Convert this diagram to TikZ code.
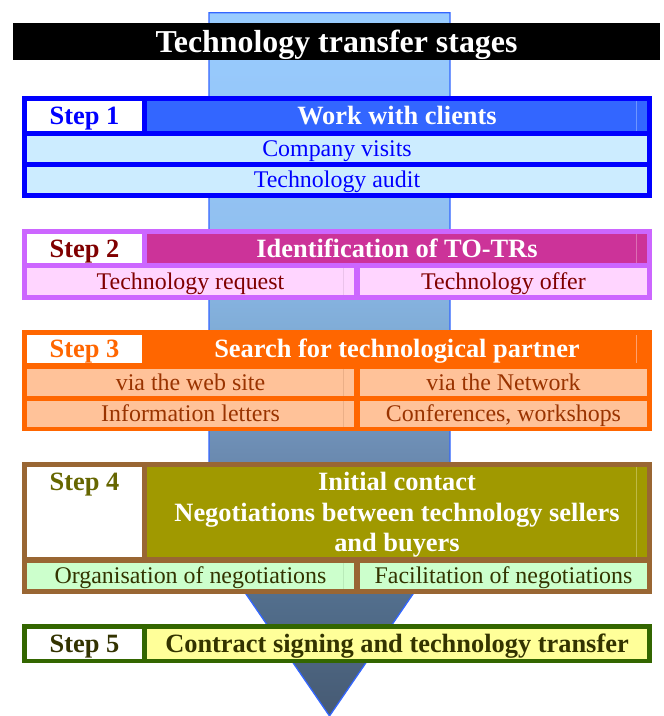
\documentclass[tikz,border=0pt]{standalone}
\usepackage{fontspec}
\setmainfont{Liberation Serif}
\definecolor{ashA}{RGB}{70,90,115}
\definecolor{ashB}{RGB}{82,110,140}
\definecolor{ashC}{RGB}{108,140,178}
\definecolor{ashD}{RGB}{128,172,215}
\definecolor{ashE}{RGB}{145,192,240}
\definecolor{ashF}{RGB}{153,204,255}
\definecolor{arrline}{RGB}{51,102,255}
\pgfdeclareverticalshading{arrowsh}{100bp}{color(0bp)=(ashA); color(25bp)=(ashA); color(33.25bp)=(ashB); color(43.9bp)=(ashC); color(52.45bp)=(ashD); color(59.6bp)=(ashE); color(75bp)=(ashF); color(100bp)=(ashF)}
% step 1
\definecolor{bdA}{RGB}{0,0,255}
\definecolor{hdA}{RGB}{51,102,255}
\definecolor{rwA}{RGB}{204,236,255}
\definecolor{txA}{RGB}{0,0,255}
\definecolor{flA}{RGB}{110,150,255}
% step 2
\definecolor{bdB}{RGB}{204,102,255}
\definecolor{hdB}{RGB}{204,51,153}
\definecolor{rwB}{RGB}{255,213,255}
\definecolor{txB}{RGB}{128,0,0}
\definecolor{flB}{RGB}{220,110,180}
\definecolor{fcB}{RGB}{235,195,235}
% step 3
\definecolor{bdC}{RGB}{255,102,0}
\definecolor{rwC}{RGB}{255,194,153}
\definecolor{txC}{RGB}{153,51,0}
\definecolor{flC}{RGB}{255,160,110}
\definecolor{fcC}{RGB}{235,175,135}
% step 4
\definecolor{bdD}{RGB}{153,102,51}
\definecolor{hdD}{RGB}{160,153,0}
\definecolor{rwD}{RGB}{204,255,204}
\definecolor{txD}{RGB}{102,102,0}
\definecolor{tdD}{RGB}{51,51,0}
\definecolor{flD}{RGB}{190,185,70}
\definecolor{fcD}{RGB}{185,235,185}
% step 5
\definecolor{bdE}{RGB}{51,102,0}
\definecolor{hdE}{RGB}{255,255,153}
\definecolor{txE}{RGB}{51,51,0}
\begin{document}
\begin{tikzpicture}[x=1bp,y=-1bp,
  cell/.style={inner sep=0pt, outer sep=0pt, anchor=center},
  hfont/.style={font=\fontsize{26.5}{30.5}\selectfont\bfseries, text height=17.5bp, text depth=0bp},
  rfont/.style={font=\fontsize{24}{28}\selectfont, text height=15.9bp, text depth=0bp},
  faint/.style={line width=0.8bp}]
\useasboundingbox (0,0) rectangle (664,716);
% arrow
\path[shading=arrowsh, draw=arrline, line width=1.3bp]
  (209,12.7) -- (450,12.7) -- (450,540) -- (329.5,716) -- (209,540) -- cycle;
% title
\node[cell, fill=black, minimum width=647bp, minimum height=37bp, text=white,
  font=\fontsize{32}{36}\selectfont\bfseries, text height=21.2bp, text depth=0bp]
  (title) at (336.5,41.5) {Technology transfer stages};
% ---------- step 1
\node[cell, fill=bdA, minimum width=630bp, minimum height=102bp] (box1) at (337,147) {};
\node[cell, hfont, fill=white, text=txA, minimum width=115bp, minimum height=30bp] (s1s) at (84.5,116) {Step 1};
\node[cell, hfont, fill=hdA, text=white, minimum width=500bp, minimum height=30bp] (s1h) at (397,116) {Work with clients};
\draw[faint, flA] (636,101) -- (636,131);
\node[cell, rfont, fill=rwA, text=txA, minimum width=620bp, minimum height=26bp] (s1a) at (337,149) {Company visits};
\node[cell, rfont, fill=rwA, text=txA, minimum width=620bp, minimum height=26bp] (s1b) at (337,180) {Technology audit};
% ---------- step 2
\node[cell, fill=bdB, minimum width=630bp, minimum height=71bp] (box2) at (337,264.5) {};
\node[cell, hfont, fill=white, text=txB, minimum width=115bp, minimum height=29bp] (s2s) at (84.5,248.5) {Step 2};
\node[cell, hfont, fill=hdB, text=white, minimum width=500bp, minimum height=29bp] (s2h) at (397,248.5) {Identification of TO-TRs};
\draw[faint, flB] (636,234) -- (636,263);
\node[cell, rfont, fill=rwB, text=txB, minimum width=327bp, minimum height=27bp] (s2a) at (190.5,281.5) {Technology request};
\node[cell, rfont, fill=rwB, text=txB, minimum width=287bp, minimum height=27bp] (s2b) at (503.5,281.5) {Technology offer};
\draw[faint, fcB] (343.5,268) -- (343.5,295);
% ---------- step 3
\node[cell, fill=bdC, minimum width=630bp, minimum height=101bp] (box3) at (337,380.5) {};
\node[cell, hfont, fill=white, text=bdC, minimum width=115bp, minimum height=28bp] (s3s) at (84.5,349) {Step 3};
\node[cell, hfont, text=white] (s3h) at (397,349) {Search for technological partner};
\draw[faint, flC] (636,335) -- (636,363);
\node[cell, rfont, fill=rwC, text=txC, minimum width=327bp, minimum height=27bp] (s3a) at (190.5,382.5) {via the web site};
\node[cell, rfont, fill=rwC, text=txC, minimum width=287bp, minimum height=27bp] (s3b) at (503.5,382.5) {via the Network};
\node[cell, rfont, fill=rwC, text=txC, minimum width=327bp, minimum height=26bp] (s3c) at (190.5,414) {Information letters};
\node[cell, rfont, fill=rwC, text=txC, minimum width=287bp, minimum height=26bp] (s3d) at (503.5,414) {Conferences, workshops};
\draw[faint, fcC] (343.5,369) -- (343.5,396);
\draw[faint, fcC] (343.5,401) -- (343.5,427);
% ---------- step 4
\node[cell, fill=bdD, minimum width=630bp, minimum height=132bp] (box4) at (337,528) {};
\node[cell, fill=white, minimum width=115bp, minimum height=90bp] (s4s) at (84.5,512) {};
\node[cell, hfont, text=txD] (s4st) at (84.5,481.7) {Step 4};
\node[cell, fill=hdD, minimum width=500bp, minimum height=90bp] (s4h) at (397,512) {};
\node[cell, text=white, align=center, font=\fontsize{26.5}{30.5}\selectfont\bfseries] (s4ht) at (397,515)
  {Initial contact\\Negotiations between technology sellers\\and buyers};
\draw[faint, flD] (636,467) -- (636,557);
\node[cell, rfont, fill=rwD, text=tdD, minimum width=327bp, minimum height=26bp] (s4a) at (190.5,576) {Organisation of negotiations};
\node[cell, rfont, fill=rwD, text=tdD, minimum width=287bp, minimum height=26bp] (s4b) at (503.5,576) {Facilitation of negotiations};
\draw[faint, fcD] (343.5,563) -- (343.5,589);
% ---------- step 5
\node[cell, fill=bdE, minimum width=630bp, minimum height=39bp] (box5) at (337,643.5) {};
\node[cell, hfont, fill=white, text=txE, minimum width=115bp, minimum height=30bp] (s5s) at (84.5,644) {Step 5};
\node[cell, hfont, fill=hdE, text=txE, minimum width=500bp, minimum height=30bp] (s5h) at (397,644) {Contract signing and technology transfer};
\end{tikzpicture}
\end{document}
